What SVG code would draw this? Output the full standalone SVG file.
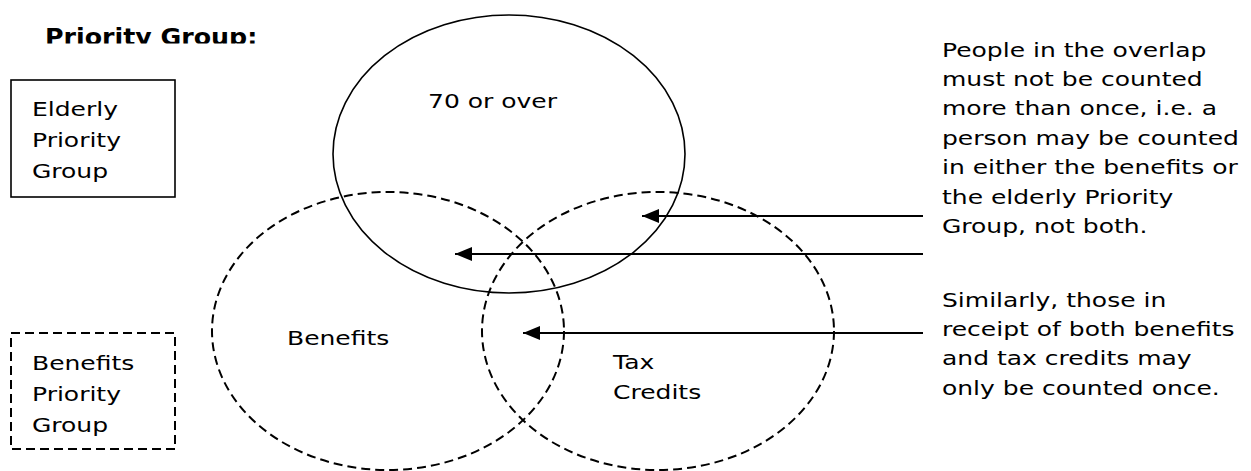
<svg xmlns="http://www.w3.org/2000/svg" width="1251" height="471" viewBox="0 0 1251 471">
<style>
.t{font-family:"DejaVu Sans","Liberation Sans",sans-serif;font-size:20px;fill:#000}
.h{font-family:"DejaVu Sans","Liberation Sans",sans-serif;font-size:23px;font-weight:bold;fill:#000}
.solid{fill:none;stroke:#000;stroke-width:1.6}
.dash{fill:none;stroke:#000;stroke-width:2;stroke-dasharray:9 5}
.conn{stroke:#000;stroke-width:1.8;fill:none}
</style>
<defs>
<marker id="ah" markerUnits="userSpaceOnUse" markerWidth="17" markerHeight="14" refX="17" refY="7" orient="auto">
<path d="M0,0 L17,7 L0,14 z" fill="#000"/>
</marker>
<clipPath id="hc"><rect x="0" y="0" width="400" height="43.5"/></clipPath>
</defs>
<rect width="1251" height="471" fill="#fff"/>
<g id="heading" clip-path="url(#hc)">
<text class="h" transform="translate(45,44.5) scale(1.1,1)">Priority Group:</text>
</g>
<g id="legend-elderly">
<rect x="11" y="80" width="164" height="117" class="solid"/>
<text class="t" transform="translate(32,115.7) scale(1.25,1)"><tspan x="0" y="0">Elderly</tspan><tspan x="0" y="31.3">Priority</tspan><tspan x="0" y="62.6">Group</tspan></text>
</g>
<g id="legend-benefits">
<rect x="11" y="333" width="164" height="116" class="dash"/>
<text class="t" transform="translate(32,370) scale(1.25,1)"><tspan x="0" y="0">Benefits</tspan><tspan x="0" y="30.8">Priority</tspan><tspan x="0" y="61.6">Group</tspan></text>
</g>
<g id="elderly">
<ellipse cx="509" cy="154" rx="176" ry="139" class="solid"/>
<text class="t" transform="translate(428,108) scale(1.25,1)">70 or over</text>
</g>
<g id="benefits">
<ellipse cx="388" cy="331" rx="176" ry="139" class="dash"/>
<text class="t" transform="translate(287,345) scale(1.25,1)">Benefits</text>
</g>
<g id="taxcredits">
<ellipse cx="658" cy="331" rx="176" ry="139" class="dash"/>
<text class="t" transform="translate(613,368.5) scale(1.25,1)"><tspan x="0" y="0">Tax</tspan><tspan x="0" y="31">Credits</tspan></text>
</g>
<g id="connectors">
<line x1="923" y1="216" x2="642" y2="216" class="conn" marker-end="url(#ah)"/>
<line x1="923" y1="254" x2="455" y2="254" class="conn" marker-end="url(#ah)"/>
<line x1="923" y1="333" x2="523" y2="333" class="conn" marker-end="url(#ah)"/>
</g>
<g id="note-overlap">
<text class="t" transform="translate(942,56.7) scale(1.25,1)"><tspan x="0" y="0">People in the overlap</tspan><tspan x="0" y="29.4">must not be counted</tspan><tspan x="0" y="58.8">more than once, i.e. a</tspan><tspan x="0" y="88.2">person may be counted</tspan><tspan x="0" y="117.6">in either the benefits or</tspan><tspan x="0" y="147">the elderly Priority</tspan><tspan x="0" y="176.4">Group, not both.</tspan></text>
</g>
<g id="note-similarly">
<text class="t" transform="translate(942,306.7) scale(1.25,1)"><tspan x="0" y="0">Similarly, those in</tspan><tspan x="0" y="29.4">receipt of both benefits</tspan><tspan x="0" y="58.8">and tax credits may</tspan><tspan x="0" y="88.2">only be counted once.</tspan></text>
</g>
</svg>
